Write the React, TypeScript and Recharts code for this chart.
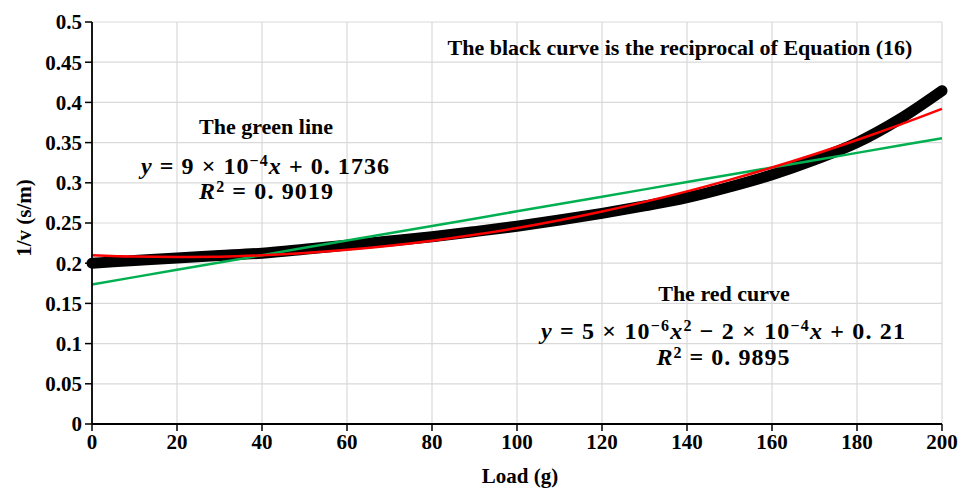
import React from 'react';
import { ComposedChart, Line, XAxis, YAxis, CartesianGrid } from 'recharts';

const loads = [0, 10, 20, 30, 40, 50, 60, 70, 80, 90, 100, 110, 120, 130, 140, 150, 160, 170, 180, 190, 200];
const blackCurve = [0.2, 0.2033, 0.2066, 0.2095, 0.2125, 0.2173, 0.2225, 0.2276, 0.233, 0.2393, 0.246, 0.2537, 0.262, 0.2713, 0.2815, 0.2948, 0.31, 0.3285, 0.35, 0.379, 0.4145];
const redCurve = [0.21, 0.2082, 0.2076, 0.2081, 0.2098, 0.2126, 0.2166, 0.2217, 0.2279, 0.2353, 0.2438, 0.2535, 0.2643, 0.2763, 0.2893, 0.3036, 0.319, 0.3355, 0.3532, 0.372, 0.392];
const greenLine = [0.1736, 0.1827, 0.1918, 0.2009, 0.21, 0.2191, 0.2282, 0.2372, 0.2463, 0.2554, 0.2645, 0.2736, 0.2827, 0.2918, 0.3009, 0.31, 0.319, 0.3281, 0.3372, 0.3463, 0.3554];
const xTicks = [0, 20, 40, 60, 80, 100, 120, 140, 160, 180, 200];
const yTicks = [0, 0.05, 0.1, 0.15, 0.2, 0.25, 0.3, 0.35, 0.4, 0.45, 0.5];
const yTickLabels = ['0', '0.05', '0.1', '0.15', '0.2', '0.25', '0.3', '0.35', '0.4', '0.45', '0.5'];

const data = loads.map((x, i) => ({ x, black: blackCurve[i], red: redCurve[i], green: greenLine[i] }));

const tickFont = { fontFamily: 'Liberation Serif', fontWeight: 'bold' as const, fontSize: 21, fill: '#000' };
const annoFont = 'Liberation Serif';

export default function App() {
  return (
    <div style={{ position: 'absolute', left: 0, top: 0, width: 961, height: 489, background: '#fff' }}>
      <ComposedChart width={961} height={489} data={data} margin={{ top: 22, right: 19, left: 0, bottom: 0 }}>
        <CartesianGrid stroke="#d9d9d9" strokeWidth={1.2} />
        <XAxis
          dataKey="x"
          type="number"
          domain={[0, 200]}
          ticks={xTicks}
          height={65}
          tick={tickFont}
          tickSize={7}
          tickMargin={3}
          axisLine={{ stroke: '#000', strokeWidth: 1.8 }}
          tickLine={{ stroke: '#000', strokeWidth: 1.5 }}
        />
        <YAxis
          type="number"
          domain={[0, 0.5]}
          ticks={yTicks}
          width={92}
          tick={tickFont}
          tickFormatter={(v: number) => yTickLabels[yTicks.indexOf(v)] ?? String(v)}
          tickSize={7}
          tickMargin={3}
          axisLine={{ stroke: '#000', strokeWidth: 1.8 }}
          tickLine={{ stroke: '#000', strokeWidth: 1.5 }}
        />
        <Line dataKey="black" type="monotone" stroke="#000" strokeWidth={11} strokeLinecap="round" strokeLinejoin="round" dot={false} isAnimationActive={false} />
        <Line dataKey="green" type="linear" stroke="#00B050" strokeWidth={2.5} dot={false} isAnimationActive={false} />
        <Line dataKey="red" type="monotone" stroke="#FF0000" strokeWidth={2.5} dot={false} isAnimationActive={false} />
      </ComposedChart>
      <svg width={961} height={489} style={{ position: 'absolute', left: 0, top: 0, pointerEvents: 'none' }}>
        <text x={24} y={218} transform="rotate(-90 24 218)" textAnchor="middle" dominantBaseline="central" fontFamily={annoFont} fontWeight="bold" fontSize={21}>1/v (s/m)</text>
        <text x={520} y={476} textAnchor="middle" dominantBaseline="central" fontFamily={annoFont} fontWeight="bold" fontSize={21}>Load (g)</text>
        <text x={680} y={55} textAnchor="middle" fontFamily={annoFont} fontWeight="bold" fontSize={22}>The black curve is the reciprocal of Equation (16)</text>
        <text x={266} y={134} textAnchor="middle" fontFamily={annoFont} fontWeight="bold" fontSize={22}>The green line</text>
        <text x={265} y={174} textAnchor="middle" fontFamily={annoFont} fontWeight="bold" fontSize={24} textLength={248} lengthAdjust="spacing">
          <tspan fontStyle="italic">y</tspan> = 9 × 10<tspan dy={-8} fontSize={16}>−4</tspan><tspan dy={8} fontStyle="italic">x</tspan> + 0. 1736
        </text>
        <text x={266} y={199} textAnchor="middle" fontFamily={annoFont} fontWeight="bold" fontSize={24} textLength={134} lengthAdjust="spacing">
          <tspan fontStyle="italic">R</tspan><tspan dy={-7} fontSize={16}>2</tspan><tspan dy={7}> = 0. 9019</tspan>
        </text>
        <text x={724} y={301} textAnchor="middle" fontFamily={annoFont} fontWeight="bold" fontSize={22}>The red curve</text>
        <text x={723} y={339} textAnchor="middle" fontFamily={annoFont} fontWeight="bold" fontSize={24} textLength={364} lengthAdjust="spacing">
          <tspan fontStyle="italic">y</tspan> = 5 × 10<tspan dy={-8} fontSize={16}>−6</tspan><tspan dy={8} fontStyle="italic">x</tspan><tspan dy={-8} fontSize={16}>2</tspan><tspan dy={8}> − 2 × 10</tspan><tspan dy={-8} fontSize={16}>−4</tspan><tspan dy={8} fontStyle="italic">x</tspan> + 0. 21
        </text>
        <text x={723} y={365} textAnchor="middle" fontFamily={annoFont} fontWeight="bold" fontSize={24} textLength={133} lengthAdjust="spacing">
          <tspan fontStyle="italic">R</tspan><tspan dy={-7} fontSize={16}>2</tspan><tspan dy={7}> = 0. 9895</tspan>
        </text>
      </svg>
    </div>
  );
}
